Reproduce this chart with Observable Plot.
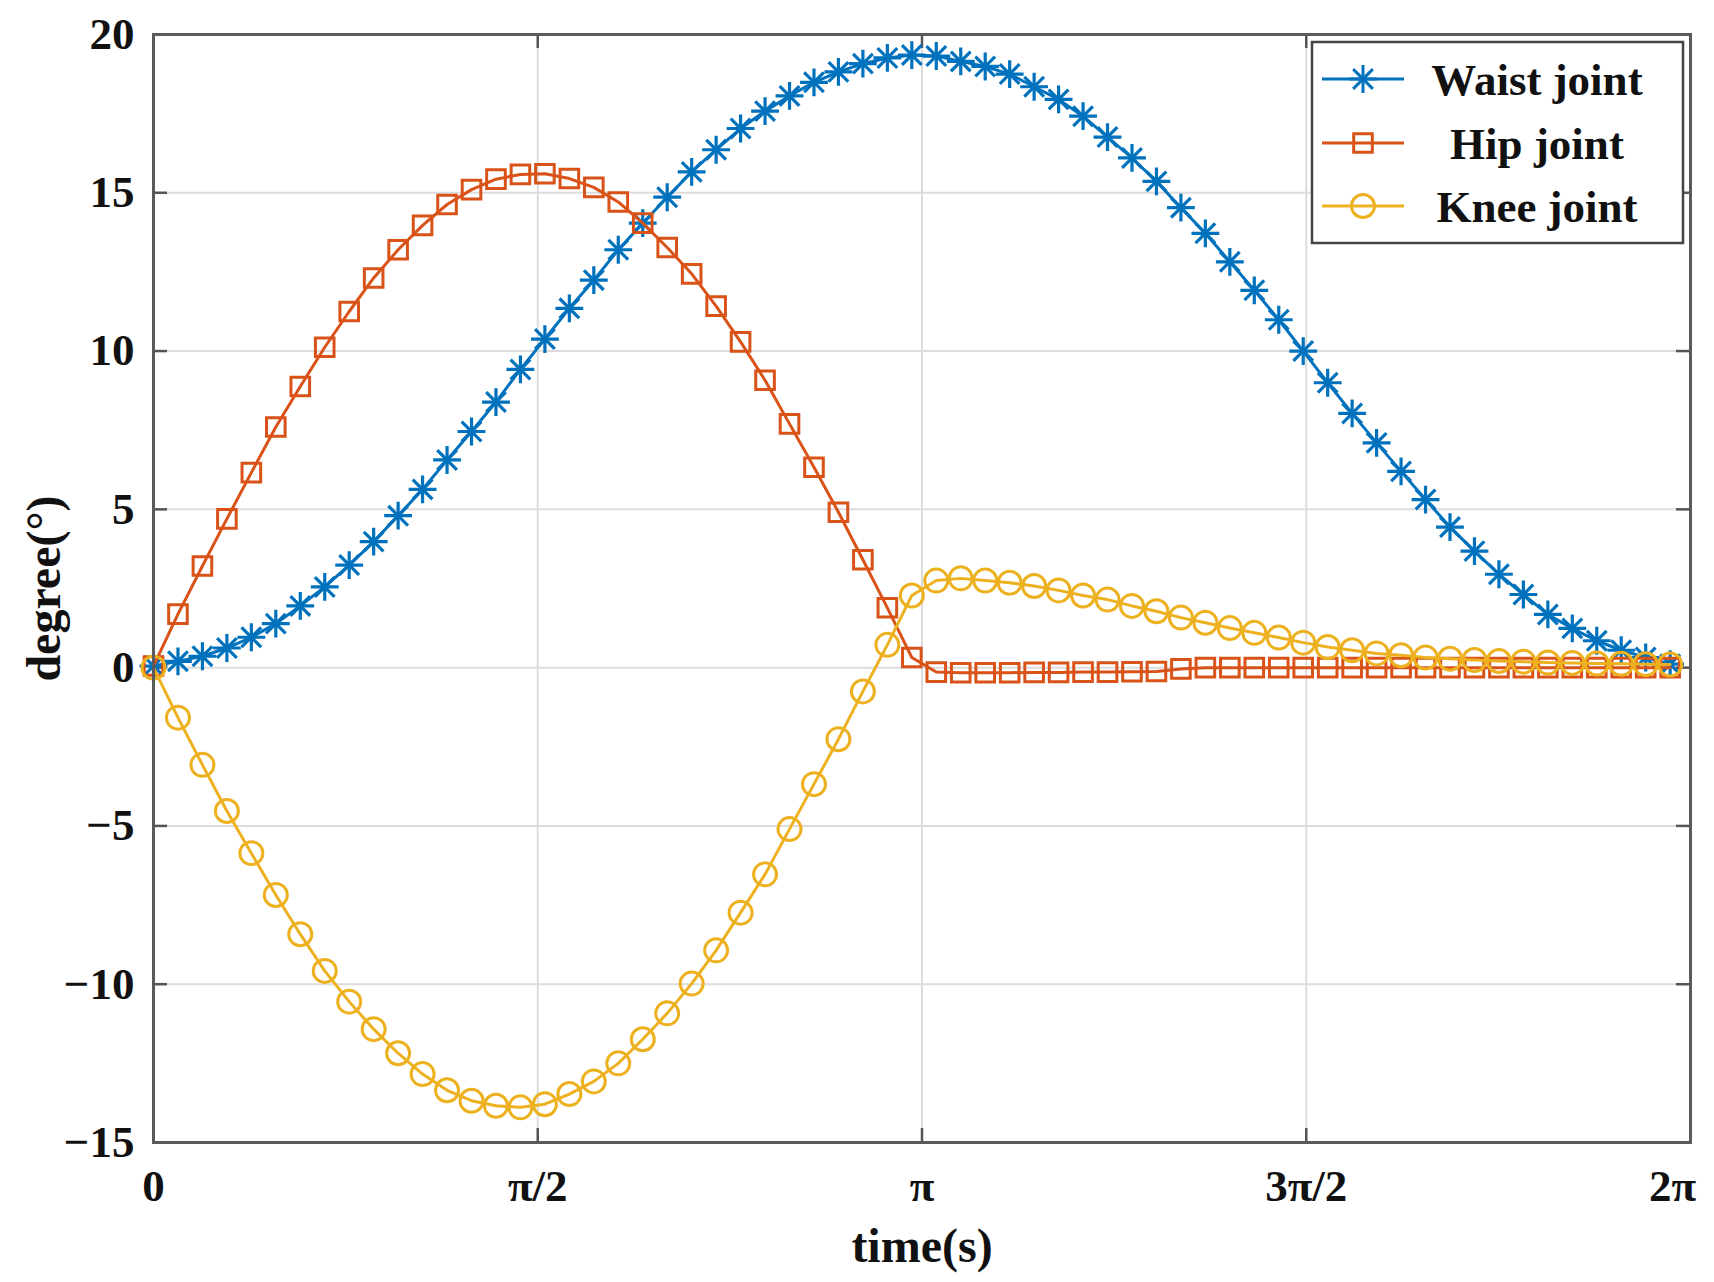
<!DOCTYPE html>
<html>
<head>
<meta charset="utf-8">
<script src="https://cdn.jsdelivr.net/npm/d3@7"></script>
<script src="https://cdn.jsdelivr.net/npm/@observablehq/plot@0.6"></script>
<style>
html, body { margin: 0; padding: 0; background: #fff; }
#chart { width: 1714px; height: 1282px; }
</style>
</head>
<body>
<div id="chart"></div>
<script>
// ---- data ----
const time = [0.0,0.1,0.2,0.3,0.4,0.5,0.6,0.7,0.8,0.9,1.0,1.1,1.2,1.3,1.4,1.5,1.6,1.7,1.8,1.9,
  2.0,2.1,2.2,2.3,2.4,2.5,2.6,2.7,2.8,2.9,3.0,3.1,3.2,3.3,3.4,3.5,3.6,3.7,3.8,3.9,
  4.0,4.1,4.2,4.3,4.4,4.5,4.6,4.7,4.8,4.9,5.0,5.1,5.2,5.3,5.4,5.5,5.6,5.7,5.8,5.9,
  6.0,6.1,6.2];

const waist = [0.05,0.20,0.36,0.62,0.96,1.39,1.95,2.55,3.24,3.98,4.80,5.63,6.56,7.46,8.39,9.42,10.38,11.35,12.24,13.20,
  14.04,14.86,15.66,16.36,17.03,17.58,18.06,18.49,18.82,19.08,19.26,19.35,19.32,19.15,18.99,18.75,18.35,17.95,17.42,16.76,
  16.10,15.36,14.53,13.72,12.82,11.92,10.99,10.00,9.00,8.03,7.10,6.20,5.31,4.44,3.68,2.95,2.31,1.68,1.24,0.85,
  0.55,0.32,0.11];

const hip = [0.05,1.69,3.21,4.70,6.16,7.60,8.88,10.12,11.25,12.31,13.20,13.97,14.63,15.10,15.43,15.58,15.60,15.45,15.17,14.71,
  14.04,13.27,12.44,11.42,10.29,9.08,7.70,6.33,4.91,3.41,1.89,0.32,-0.14,-0.16,-0.16,-0.16,-0.15,-0.15,-0.14,-0.14,
  -0.13,-0.12,-0.04,0.00,0.00,0.00,0.00,0.00,0.00,0.00,0.00,0.00,0.00,0.00,0.00,0.00,0.00,0.00,0.00,0.00,
  0.00,0.00,0.00];

const knee = [0.00,-1.58,-3.07,-4.53,-5.86,-7.18,-8.42,-9.58,-10.55,-11.42,-12.18,-12.84,-13.35,-13.68,-13.84,-13.89,-13.79,-13.47,-13.07,-12.50,
  -11.74,-10.92,-9.98,-8.93,-7.74,-6.53,-5.10,-3.68,-2.26,-0.75,0.72,2.28,2.75,2.82,2.75,2.68,2.58,2.44,2.28,2.15,
  1.95,1.78,1.58,1.42,1.25,1.10,0.95,0.79,0.65,0.55,0.45,0.39,0.32,0.28,0.24,0.21,0.19,0.16,0.15,0.13,
  0.12,0.11,0.10];

const xTickValues = [0, Math.PI / 2, Math.PI, 3 * Math.PI / 2, 2 * Math.PI];
const xTickLabels = ["0", "π/2", "π", "3π/2", "2π"];
const yTickValues = [-15, -10, -5, 0, 5, 10, 15, 20];
const yTickLabels = ["−15", "−10", "−5", "0", "5", "10", "15", "20"];
const seriesNames = ["Waist joint", "Hip joint", "Knee joint"];
const seriesColors = ["#0072BD", "#D95319", "#EDB120"];
const xLabel = "time(s)";
const yLabel = "degree(°)";

// ---- layout ----
const W = 1714, H = 1282;
const mL = 153, mR = 24, mT = 34, mB = 140;
const innerW = W - mL - mR, innerH = H - mT - mB;
const FONT = "'Liberation Serif', 'Times New Roman', serif";
const rows = vals => time.map((t, i) => ({t, v: vals[i]}));
const dWaist = rows(waist), dHip = rows(hip), dKnee = rows(knee);
const tickColor = "#555";
const lw = 3;
const txt = {fontWeight: "bold", fill: "#111"};

const chart = Plot.plot({
  width: W, height: H,
  marginLeft: mL, marginRight: mR, marginTop: mT, marginBottom: mB,
  style: {fontFamily: FONT, background: "#fff", overflow: "visible"},
  x: {domain: [0, 2 * Math.PI], axis: null},
  y: {domain: [-15, 20], axis: null},
  marks: [
    Plot.gridX(xTickValues, {stroke: "#dcdcdc", strokeOpacity: 1, strokeWidth: 2}),
    Plot.gridY(yTickValues, {stroke: "#dcdcdc", strokeOpacity: 1, strokeWidth: 2}),
    // inward ticks (MATLAB style) on all four sides
    Plot.tickX(xTickValues, {x: d => d, insetTop: innerH - 14, stroke: tickColor, strokeWidth: 2.5}),
    Plot.tickX(xTickValues, {x: d => d, insetBottom: innerH - 14, stroke: tickColor, strokeWidth: 2.5}),
    Plot.tickY(yTickValues, {y: d => d, insetRight: innerW - 14, stroke: tickColor, strokeWidth: 2.5}),
    Plot.tickY(yTickValues, {y: d => d, insetLeft: innerW - 14, stroke: tickColor, strokeWidth: 2.5}),
    // Waist
    Plot.line(dWaist, {x: "t", y: "v", stroke: seriesColors[0], strokeWidth: lw}),
    Plot.dot(dWaist, {x: "t", y: "v", symbol: "plus", r: 9, stroke: seriesColors[0], strokeWidth: 3.2, fill: "none"}),
    Plot.dot(dWaist, {x: "t", y: "v", symbol: "times", r: 9, stroke: seriesColors[0], strokeWidth: 3.2, fill: "none"}),
    // Hip
    Plot.line(dHip, {x: "t", y: "v", stroke: seriesColors[1], strokeWidth: lw}),
    Plot.dot(dHip, {x: "t", y: "v", symbol: "square", r: 10.5, stroke: seriesColors[1], strokeWidth: 3, fill: "none"}),
    // Knee
    Plot.line(dKnee, {x: "t", y: "v", stroke: seriesColors[2], strokeWidth: lw}),
    Plot.dot(dKnee, {x: "t", y: "v", symbol: "circle", r: 11.5, stroke: seriesColors[2], strokeWidth: 3, fill: "none"}),
    Plot.frame({stroke: "#5a5a5a", strokeWidth: 3}),
    // tick labels
    Plot.text(xTickValues.slice(0, 4), {x: d => d, text: (d, i) => xTickLabels[i], frameAnchor: "bottom",
      lineAnchor: "middle", textAnchor: "middle", dy: 44, fontSize: 45, ...txt}),
    Plot.text(xTickValues.slice(4), {x: d => d, text: (d, i) => xTickLabels[4 + i], frameAnchor: "bottom",
      lineAnchor: "middle", textAnchor: "middle", dy: 44, dx: -18, fontSize: 45, ...txt}),
    Plot.text(yTickValues, {y: d => d, text: (d, i) => yTickLabels[i], frameAnchor: "left",
      lineAnchor: "middle", textAnchor: "end", dx: -19, fontSize: 45, ...txt}),
    // axis titles
    Plot.text([xLabel], {text: d => d, frameAnchor: "bottom", lineAnchor: "middle", textAnchor: "middle",
      dy: 104, fontSize: 48, ...txt}),
    Plot.text([yLabel], {text: d => d, frameAnchor: "left", lineAnchor: "middle", textAnchor: "middle",
      dx: -109, rotate: -90, fontSize: 48, ...txt})
  ]
});

document.getElementById("chart").appendChild(chart);

// ---- legend (drawn into the SVG, top-right inside the axes) ----
const svg = d3.select(chart.tagName.toLowerCase() === "svg" ? chart : chart.querySelector("svg"));
const lg = svg.append("g").attr("class", "legend");
const lx = 1312, ly = 42, lwid = 371, lht = 201;
lg.append("rect").attr("x", lx).attr("y", ly).attr("width", lwid).attr("height", lht)
  .attr("fill", "#fff").attr("stroke", "#444").attr("stroke-width", 2.5);
const rowY = [79, 143, 206];
const symArea = r => Math.PI * r * r;
seriesNames.forEach((name, i) => {
  const g = lg.append("g");
  const y = rowY[i], c = seriesColors[i];
  g.append("line").attr("x1", lx + 10).attr("x2", lx + 92).attr("y1", y).attr("y2", y)
    .attr("stroke", c).attr("stroke-width", lw);
  const m = g.append("g").attr("transform", `translate(${lx + 51},${y})`)
    .attr("fill", "none").attr("stroke", c).attr("stroke-width", 3);
  if (i === 0) {
    m.append("path").attr("d", d3.symbol(d3.symbolPlus, symArea(9))());
    m.append("path").attr("d", d3.symbol(d3.symbolTimes, symArea(9))());
  } else if (i === 1) {
    m.append("path").attr("d", d3.symbol(d3.symbolSquare, symArea(10.5))());
  } else {
    m.append("path").attr("d", d3.symbol(d3.symbolCircle, symArea(11.5))());
  }
  g.append("text").attr("x", 1537).attr("y", y).attr("dy", "0.35em").attr("text-anchor", "middle")
    .attr("font-family", FONT).attr("font-size", 45).attr("font-weight", "bold").attr("fill", "#111")
    .text(name);
});
</script>
</body>
</html>
